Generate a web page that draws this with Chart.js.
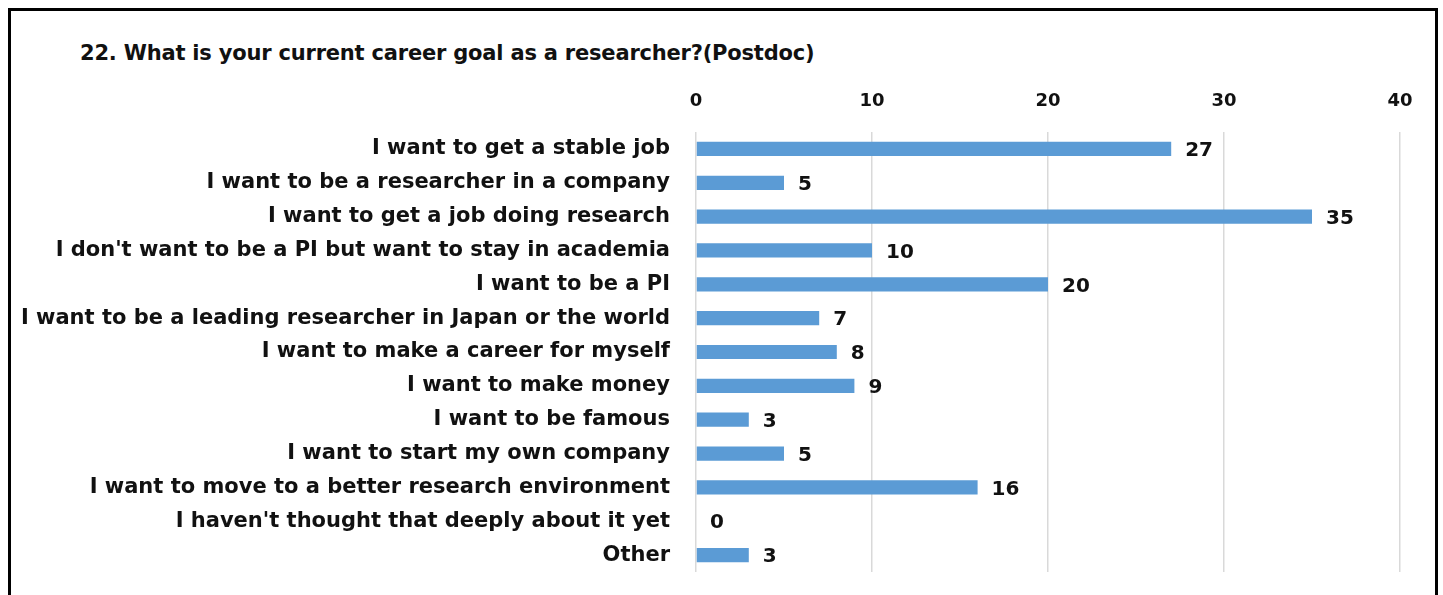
<!DOCTYPE html>
<html>
<head>
<meta charset="utf-8">
<script src="https://cdn.jsdelivr.net/npm/chart.js@4.4.0/dist/chart.umd.min.js"></script>
<style>
  body { margin: 0; background: #fff; }
  .quadro { position: absolute; left: 8px; top: 8px; width: 1430px; height: 620px; border: 3px solid #000; box-sizing: border-box; }
  .titulo { position: absolute; left: 80px; top: 41px; font: bold 21px "DejaVu Sans", Verdana, sans-serif; color: #111; letter-spacing: -0.2px; }
  #grafico { position: absolute; left: 0; top: 0; }
</style>
</head>
<body>
<div class="quadro"></div>
<div class="titulo">22. What is your current career goal as a researcher?(Postdoc)</div>
<canvas id="grafico" width="1443" height="595"></canvas>
<script>
const categorias = [
    'I want to get a stable job',
    'I want to be a researcher in a company',
    'I want to get a job doing research',
    "I don't want to be a PI but want to stay in academia",
    'I want to be a PI',
    'I want to be a leading researcher in Japan or the world',
    'I want to make a career for myself',
    'I want to make money',
    'I want to be famous',
    'I want to start my own company',
    'I want to move to a better research environment',
    "I haven't thought that deeply about it yet",
    'Other'
];
const respostas = [27, 5, 35, 10, 20, 7, 8, 9, 3, 5, 16, 0, 3];
const ticksX = [0, 10, 20, 30, 40];

const fonte = '"DejaVu Sans", Verdana, sans-serif';

// rótulos de valor ao lado das barras
const rotulos = {
    id: 'rotulos',
    afterDatasetsDraw(chart) {
        const ctx = chart.ctx;
        const meta = chart.getDatasetMeta(0);
        ctx.save();
        ctx.font = 'bold 20px ' + fonte;
        ctx.fillStyle = '#111';
        ctx.textBaseline = 'middle';
        meta.data.forEach((barra, i) => {
            ctx.fillText(String(respostas[i]), barra.x + 14, barra.y + 2);
        });
        ctx.restore();
    }
};

new Chart(document.getElementById('grafico'), {
    type: 'bar',
    data: {
        labels: categorias,
        datasets: [{
            data: respostas,
            backgroundColor: '#5B9BD5',
            barPercentage: 0.42,
            categoryPercentage: 1.0
        }]
    },
    options: {
        indexAxis: 'y',
        responsive: false,
        animation: false,
        layout: { padding: { top: 90, bottom: 23, left: 0, right: 43 } },
        plugins: { legend: { display: false }, tooltip: { enabled: false } },
        scales: {
            x: {
                position: 'top',
                min: 0,
                max: 40,
                afterBuildTicks: (s) => { s.ticks = ticksX.map(v => ({ value: v })); },
                afterFit: (s) => { s.height = 42; },
                grid: { color: '#d9d9d9', lineWidth: 1.5, drawTicks: false },
                border: { display: false },
                ticks: { font: { family: fonte, size: 18, weight: 'bold' }, color: '#111', padding: 20 }
            },
            y: {
                afterFit: (s) => { s.width = 696; s.paddingTop = 0; s.paddingBottom = 0; },
                grid: { display: false, drawTicks: false },
                border: { display: false },
                ticks: { font: { family: fonte, size: 21, weight: 'bold' }, color: '#111', padding: 26 }
            }
        }
    },
    plugins: [rotulos]
});
</script>
</body>
</html>
